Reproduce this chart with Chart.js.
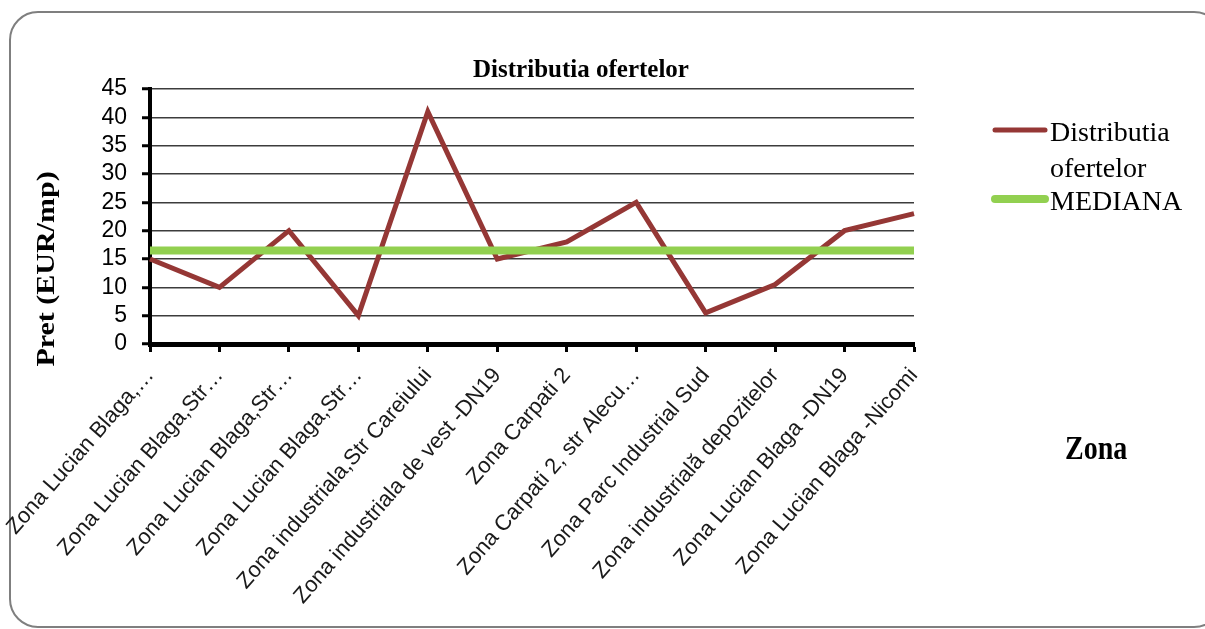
<!DOCTYPE html>
<html>
<head>
<meta charset="utf-8">
<title>Distributia ofertelor</title>
<script src="https://cdn.jsdelivr.net/npm/chart.js@4.4.0/dist/chart.umd.min.js"></script>
<style>
  html, body { margin: 0; padding: 0; background: #fff; overflow: hidden; }
  #wrap { position: relative; width: 1205px; height: 629px; }
</style>
</head>
<body>
<div id="wrap"><canvas id="myChart"></canvas></div>
<script>
// zones on the x axis (as printed, truncated ones included)
const zone = [
  'Zona Lucian Blaga,…',
  'Zona Lucian Blaga,Str…',
  'Zona Lucian Blaga,Str…',
  'Zona Lucian Blaga,Str…',
  'Zona industriala,Str Careiului',
  'Zona industriala de vest -DN19',
  'Zona Carpati 2',
  'Zona Carpati 2, str Alecu…',
  'Zona Parc Industrial Sud',
  'Zona industrială depozitelor',
  'Zona Lucian Blaga -DN19',
  'Zona Lucian Blaga -Nicomi',
];

// price EUR/mp
const distributia = [15, 10, 20, 5, 41, 15, 18, 25, 5.5, 10.5, 20, 23];
const mediana = [16.5, 16.5, 16.5, 16.5, 16.5, 16.5, 16.5, 16.5, 16.5, 16.5, 16.5, 16.5];

// y axis ticks
const yMin = 0;
const yMax = 45;
const yStep = 5;

const titleText = 'Distributia ofertelor';
const yTitleText = 'Pret (EUR/mp)';
const xTitleText = 'Zona';

const serif = '"Liberation Serif", "Times New Roman", serif';
const sans = '"Liberation Sans", Arial, sans-serif';

// frame, titles and legend
const decor = {
  id: 'decor',
  beforeDraw(chart) {
    const ctx = chart.ctx;
    ctx.save();
    ctx.fillStyle = '#fff';
    ctx.fillRect(0, 0, chart.width, chart.height);
    ctx.beginPath();
    ctx.roundRect(10, 12, 1212, 615, 28);
    ctx.lineWidth = 2;
    ctx.strokeStyle = '#7f7f7f';
    ctx.stroke();
    ctx.restore();
  },
  afterDraw(chart) {
    const ctx = chart.ctx;
    ctx.save();
    ctx.fillStyle = '#000';

    // chart title
    ctx.font = 'bold 25px ' + serif;
    ctx.textAlign = 'center';
    ctx.textBaseline = 'alphabetic';
    ctx.fillText(titleText, 581, 77);

    // y axis title
    ctx.save();
    ctx.translate(54, 269);
    ctx.rotate(-Math.PI / 2);
    ctx.scale(1.2, 1);
    ctx.font = 'bold 25px ' + serif;
    ctx.textAlign = 'center';
    ctx.fillText(yTitleText, 0, 0);
    ctx.restore();

    // x axis title, off to the right
    ctx.save();
    ctx.translate(1065, 459);
    ctx.scale(1, 1.2);
    ctx.font = 'bold 28px ' + serif;
    ctx.textAlign = 'left';
    ctx.fillText(xTitleText, 0, 0);
    ctx.restore();

    // legend
    ctx.font = '28px ' + serif;
    ctx.textAlign = 'left';
    let y = 130;
    chart.data.datasets.forEach(ds => {
      const words = ds.label.split(' ');
      const lines = [];
      let cur = '';
      words.forEach(w => {
        const test = cur ? cur + ' ' + w : w;
        if (cur && ctx.measureText(test).width > 140) {
          lines.push(cur);
          cur = w;
        } else {
          cur = test;
        }
      });
      lines.push(cur);

      ctx.beginPath();
      ctx.moveTo(995, y);
      ctx.lineTo(1045, y);
      ctx.lineWidth = ds.borderWidth;
      ctx.lineCap = 'round';
      ctx.strokeStyle = ds.borderColor;
      ctx.stroke();

      lines.forEach((l, i) => ctx.fillText(l, 1050, y + 11 + i * 36));
      y += 34.5 * lines.length;
    });
    ctx.restore();
  }
};

const ctx = document.getElementById('myChart').getContext('2d');

const chart = new Chart(ctx, {
  type: 'line',
  data: {
    labels: zone,
    datasets: [
      {
        label: 'Distributia ofertelor',
        data: distributia,
        borderColor: '#953735',
        backgroundColor: '#953735',
        borderWidth: 5,
        pointRadius: 0,
        tension: 0,
        fill: false,
        order: 1,
        clip: 6,
      },
      {
        label: 'MEDIANA',
        data: mediana,
        borderColor: '#92d050',
        backgroundColor: '#92d050',
        borderWidth: 8,
        pointRadius: 0,
        tension: 0,
        fill: false,
        order: 0,
        clip: 6,
        borderCapStyle: 'butt',
      }
    ]
  },
  options: {
    responsive: true,
    maintainAspectRatio: false,
    animation: false,
    devicePixelRatio: 1,
    layout: {
      padding: { top: 89, right: 291, bottom: 0, left: 0 }
    },
    plugins: {
      legend: { display: false },
      title: { display: false },
      tooltip: { enabled: false },
    },
    scales: {
      x: {
        type: 'category',
        offset: false,
        afterFit: s => { s.height = 285; },
        grid: {
          drawOnChartArea: false,
          drawTicks: true,
          tickLength: 8,
          tickColor: '#000',
          tickWidth: 3,
        },
        border: { display: true, color: '#000', width: 5 },
        ticks: {
          autoSkip: false,
          minRotation: 49,
          maxRotation: 49,
          padding: 11,
          color: '#1a1a1a',
          font: { family: sans, size: 22 },
        }
      },
      y: {
        min: yMin,
        max: yMax,
        afterFit: s => { s.width = 150; },
        grid: {
          color: '#3c3c3c',
          lineWidth: 1.5,
          drawTicks: true,
          tickLength: 8,
          tickColor: '#000',
          tickWidth: 3,
        },
        border: { display: true, color: '#000', width: 4 },
        ticks: {
          stepSize: yStep,
          autoSkip: false,
          padding: 15,
          color: '#000',
          font: { family: sans, size: 23 },
        }
      }
    }
  },
  plugins: [decor]
});
</script>
</body>
</html>
